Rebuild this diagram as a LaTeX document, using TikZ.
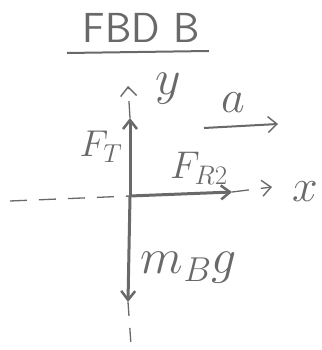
\documentclass[tikz,border=0pt]{standalone}
\usepackage{amsmath}
\usetikzlibrary{arrows.meta, positioning}
\definecolor{cPencil}{RGB}{105,105,105}
\newcommand{\handlbl}[2]{\scalebox{#1}{$#2$}}
\tikzset{
	axisline/.style={draw=cPencil, line width=1.3pt, dash pattern=on 17pt off 12pt},
	force/.style={draw=cPencil, line width=3pt, -{Straight Barb[length=9pt, width=14pt, line width=2.5pt]}},
	barb/.style={-{Straight Barb[length=9pt, width=16pt, line width=1.4pt]}},
	lbl/.style={text=cPencil, inner sep=1pt, font=\fontsize{25}{27}\selectfont},
}
\begin{document}
\begin{tikzpicture}[x=1pt, y=-1pt]
	\useasboundingbox (0,0) rectangle (321,350);
	% title
	\node[lbl, font=\fontsize{42}{44}\selectfont\sffamily] (title) at (141,28) {FBD B};
	\coordinate (ulL) at (67,53);
	\coordinate (ulR) at (209,51);
	\draw[cPencil, line width=2pt] (ulL) -- (ulR);
	% axes
	\coordinate (O) at (130,196);
	\coordinate (xStart) at (10,201);
	\coordinate (xTip) at (272,187);
	\coordinate (yTip) at (128,86);
	\coordinate (yEnd) at (131,345);
	\coordinate (FTtip) at (130,118);
	\coordinate (FRtip) at (232,192);
	\coordinate (mgTip) at (128,302);
	\draw[axisline] (xStart) -- (O);
	\draw[axisline, barb] (FRtip) -- (xTip);
	\draw[axisline, barb] (FTtip) -- (yTip);
	\draw[axisline, dash pattern=on 14pt off 12pt] (mgTip) -- (yEnd);
	% forces
	\draw[force] (O) -- (FTtip);
	\draw[force] (O) -- (FRtip);
	\draw[force] (O) -- (mgTip);
	% acceleration
	\coordinate (aL) at (204,128);
	\coordinate (aR) at (278,124);
	\draw[cPencil, line width=2pt, barb] (aL) -- (aR);
	% labels
	\node[lbl] (ylbl) at (168,89) {\handlbl{2}{y}};
	\node[lbl] (albl) at (233,103) {\handlbl{1.85}{a}};
	\node[lbl] (xlbl) at (305,192) {\handlbl{1.85}{x}};
	\node[lbl] (FTlbl) at (101,147) {\handlbl{1.5}{F_T}};
	\node[lbl] (FRlbl) at (199,168) {\handlbl{1.55}{F_{R2}}};
	\node[lbl] (mglbl) at (189,268) {\handlbl{2}{m_B g}};
\end{tikzpicture}
\end{document}
